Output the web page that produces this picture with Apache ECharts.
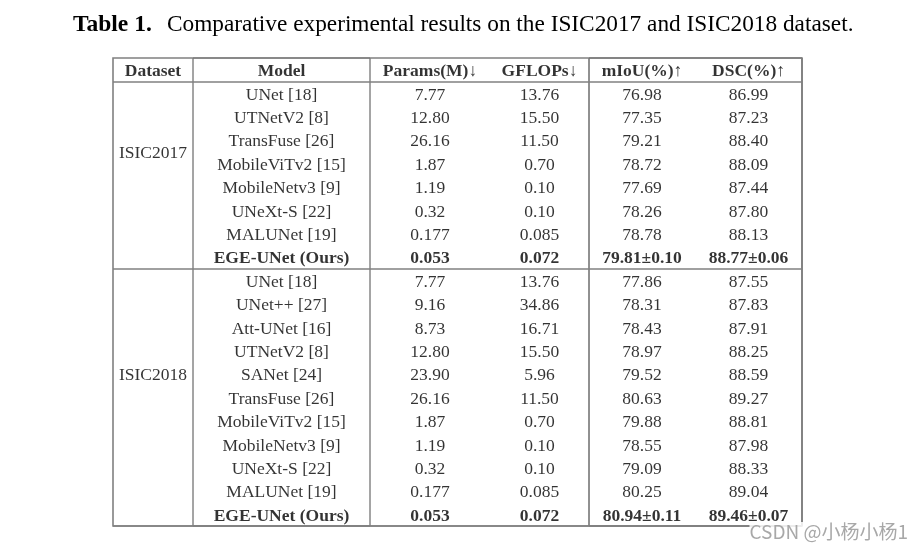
<!DOCTYPE html>
<html><head><meta charset="utf-8">
<script src="https://cdn.jsdelivr.net/npm/echarts@6.0.0/dist/echarts.min.js"></script>
<style>html,body{margin:0;padding:0;background:#fff}#c{width:922px;height:548px}</style>
</head><body><div id="c"></div>
<script>
// ---------- data ----------
const titleLabel = 'Table 1.';
const titleText = 'Comparative experimental results on the ISIC2017 and ISIC2018 dataset.';
const columnHeaders = ['Dataset', 'Model', 'Params(M)↓', 'GFLOPs↓', 'mIoU(%)↑', 'DSC(%)↑'];
const datasets = ['ISIC2017', 'ISIC2018'];
const datasetLabelRows = [4, 13.5];

const models2017 = ['UNet [18]', 'UTNetV2 [8]', 'TransFuse [26]', 'MobileViTv2 [15]', 'MobileNetv3 [9]', 'UNeXt-S [22]', 'MALUNet [19]', 'EGE-UNet (Ours)'];
const params2017 = [7.77, 12.80, 26.16, 1.87, 1.19, 0.32, 0.177, 0.053];
const gflops2017 = [13.76, 15.50, 11.50, 0.70, 0.10, 0.10, 0.085, 0.072];
const miou2017 = [76.98, 77.35, 79.21, 78.72, 77.69, 78.26, 78.78, 79.81];
const dsc2017 = [86.99, 87.23, 88.40, 88.09, 87.44, 87.80, 88.13, 88.77];
const miouStd2017 = [null, null, null, null, null, null, null, 0.10];
const dscStd2017 = [null, null, null, null, null, null, null, 0.06];

const models2018 = ['UNet [18]', 'UNet++ [27]', 'Att-UNet [16]', 'UTNetV2 [8]', 'SANet [24]', 'TransFuse [26]', 'MobileViTv2 [15]', 'MobileNetv3 [9]', 'UNeXt-S [22]', 'MALUNet [19]', 'EGE-UNet (Ours)'];
const params2018 = [7.77, 9.16, 8.73, 12.80, 23.90, 26.16, 1.87, 1.19, 0.32, 0.177, 0.053];
const gflops2018 = [13.76, 34.86, 16.71, 15.50, 5.96, 11.50, 0.70, 0.10, 0.10, 0.085, 0.072];
const miou2018 = [77.86, 78.31, 78.43, 78.97, 79.52, 80.63, 79.88, 78.55, 79.09, 80.25, 80.94];
const dsc2018 = [87.55, 87.83, 87.91, 88.25, 88.59, 89.27, 88.81, 87.98, 88.33, 89.04, 89.46];
const miouStd2018 = [null, null, null, null, null, null, null, null, null, null, 0.11];
const dscStd2018 = [null, null, null, null, null, null, null, null, null, null, 0.07];

const watermark = 'CSDN @小杨小杨1';

// ---------- layout / style ----------
const colEdges = [113, 193, 370, 490, 589, 695, 802];
const tableTop = 58, tableBottom = 22;
const serif = 'Liberation Serif';
const cellSize = 17.5;
const hLineColor = '#808080';
const vLineColor = '#4a4a4a';

function fmt(v, sd) {
  const dec = (String(v).split('.')[1] || '').length;
  let s = v.toFixed(Math.max(2, dec));
  if (sd != null) s += '±' + sd.toFixed(2);
  return s;
}

const rowKeys = ['header']
  .concat(models2017.map(m => '2017|' + m))
  .concat(models2018.map(m => '2018|' + m));

const sections = [
  { models: models2017, params: params2017, gflops: gflops2017, miou: miou2017, dsc: dsc2017, mStd: miouStd2017, dStd: dscStd2017, key: '2017|' },
  { models: models2018, params: params2018, gflops: gflops2018, miou: miou2018, dsc: dsc2018, mStd: miouStd2018, dStd: dscStd2018, key: '2018|' }
];

function columnCells(c) {
  const cells = [{ row: 'header', text: columnHeaders[c], bold: true }];
  sections.forEach(s => {
    s.models.forEach((m, i) => {
      const bold = /Ours/.test(m);
      let t;
      if (c === 1) t = m;
      else if (c === 2) t = fmt(s.params[i]);
      else if (c === 3) t = fmt(s.gflops[i]);
      else if (c === 4) t = fmt(s.miou[i], s.mStd[i]);
      else t = fmt(s.dsc[i], s.dStd[i]);
      cells.push({ row: s.key + m, text: t, bold });
    });
  });
  return cells;
}

const grids = [], xAxes = [], yAxes = [], series = [];
for (let c = 0; c < 6; c++) {
  grids.push({ left: colEdges[c], width: colEdges[c + 1] - colEdges[c], top: tableTop, bottom: tableBottom, show: false });
  xAxes.push({ type: 'category', gridIndex: c, data: [columnHeaders[c]], show: false });
  if (c === 0) {
    yAxes.push({ type: 'value', gridIndex: 0, min: 0, max: rowKeys.length, inverse: true, show: false });
  } else {
    yAxes.push({ type: 'category', gridIndex: c, data: rowKeys, inverse: true, show: false });
  }
}
const labelBase = { show: true, position: 'inside', offset: [0, 2], formatter: '{b}', color: '#000', fontFamily: serif, fontSize: cellSize };
series.push({
  type: 'scatter', xAxisIndex: 0, yAxisIndex: 0, symbolSize: 0, silent: true,
  label: labelBase,
  data: [{ name: columnHeaders[0], value: [columnHeaders[0], 0.5], label: { fontWeight: 'bold' } }]
    .concat(datasets.map((d, i) => ({ name: d, value: [columnHeaders[0], datasetLabelRows[i]] })))
});
for (let c = 1; c < 6; c++) {
  series.push({
    type: 'scatter', xAxisIndex: c, yAxisIndex: c, symbolSize: 0, silent: true,
    label: labelBase,
    data: columnCells(c).map(cell => ({ name: cell.text, value: [columnHeaders[c], cell.row], label: { fontWeight: cell.bold ? 'bold' : 'normal' } }))
  });
}
// frame grids: inner vertical rules first, outer frame (with horizontal rules) last
const frames = [
  { l: colEdges[1], r: colEdges[2], color: vLineColor, w: 1 },
  { l: colEdges[4], r: colEdges[6], color: '#222', w: 1 },
  { l: colEdges[0], r: colEdges[6], color: hLineColor, w: 1.6, outer: true }
];
frames.forEach(f => {
  const gi = grids.length;
  grids.push({ left: f.l, width: f.r - f.l, top: tableTop, bottom: tableBottom, show: true, borderColor: f.color, borderWidth: f.w, backgroundColor: 'transparent' });
  xAxes.push({ type: 'value', gridIndex: gi, show: false, min: 0, max: 1 });
  if (f.outer) {
    yAxes.push({
      type: 'category', gridIndex: gi, data: rowKeys, inverse: true,
      axisLine: { show: false }, axisTick: { show: false }, axisLabel: { show: false },
      splitLine: { show: true, interval: (i) => i === 1 || i === 1 + models2017.length, lineStyle: { color: hLineColor, width: 1.6 } }
    });
  } else {
    yAxes.push({ type: 'value', gridIndex: gi, show: false, min: 0, max: 1 });
  }
});

const chart = echarts.init(document.getElementById('c'), null, { renderer: 'canvas' });
chart.setOption({
  animation: false,
  backgroundColor: '#fff',
  title: [
    { text: titleLabel, left: 68, top: 8, textStyle: { fontFamily: serif, fontSize: 23.5, fontWeight: 'bold', color: '#000' } },
    { text: titleText, left: 162, top: 8, textStyle: { fontFamily: serif, fontSize: 23.3, fontWeight: 'normal', color: '#000' } }
  ],
  grid: grids,
  xAxis: xAxes,
  yAxis: yAxes,
  series: series,
  graphic: [{
    type: 'text', right: 14, bottom: 7, z: 100,
    style: { text: watermark, fill: '#a8a8a8', font: '19px "Noto Sans CJK SC", sans-serif', backgroundColor: 'rgba(255,255,255,0.85)' }
  }]
});
</script></body></html>
